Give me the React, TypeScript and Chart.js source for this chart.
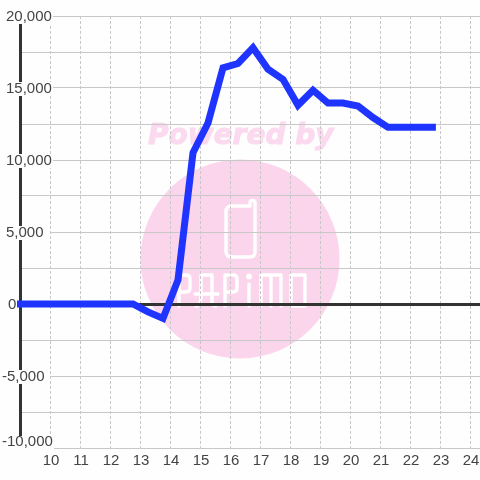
import React, { useEffect, useRef } from "react";
import { Chart, registerables } from "chart.js";

Chart.register(...registerables);

const hours = [9, 12.75, 13.25, 13.75, 14.25, 14.75, 15.25, 15.75, 16.25, 16.75, 17.25, 17.75, 18.25, 18.75, 19.25, 19.75, 20.25, 20.75, 21.25, 21.75, 22.25, 22.73];
const values = [0, 0, -550, -1000, 1670, 10500, 12570, 16400, 16700, 17800, 16300, 15600, 13800, 14850, 13950, 13950, 13750, 12950, 12270, 12270, 12270, 12270];
const xTickLabels = ["10", "11", "12", "13", "14", "15", "16", "17", "18", "19", "20", "21", "22", "23", "24"];
const yLabelled = [20000, 15000, 10000, 5000, 0, -5000, -10000];
const watermarkCaption = "Powered by";

const FONT = '"Liberation Sans", Arial, sans-serif';
const TEXT = "#444444";

const logoLetters: Array<(c: CanvasRenderingContext2D) => void> = [
  (c) => { c.moveTo(179, 306); c.lineTo(179, 275); c.lineTo(186, 275); c.quadraticCurveTo(190, 275, 190, 279); c.lineTo(190, 288); c.quadraticCurveTo(190, 292, 186, 292); c.lineTo(179, 292); },
  (c) => { c.moveTo(201, 293); c.lineTo(201, 275); c.lineTo(212, 275); c.lineTo(212, 302); c.quadraticCurveTo(212, 306, 216, 306); c.moveTo(196, 306); c.quadraticCurveTo(201, 306, 201, 294); c.lineTo(201, 293); c.moveTo(195, 294); c.lineTo(218, 294); },
  (c) => { c.moveTo(225, 306); c.lineTo(225, 275); c.lineTo(233, 275); c.quadraticCurveTo(237, 275, 237, 279); c.lineTo(237, 288); c.quadraticCurveTo(237, 292, 233, 292); c.lineTo(225, 292); },
  (c) => { c.moveTo(249, 284); c.lineTo(249, 306); },
  (c) => { c.moveTo(261, 306); c.lineTo(261, 275); c.lineTo(281, 275); c.lineTo(281, 306); c.moveTo(271, 275); c.lineTo(271, 306); },
  (c) => { c.moveTo(291, 275); c.lineTo(305, 275); c.lineTo(305, 306); c.lineTo(291, 306); c.closePath(); },
];

const watermark = {
  id: "watermark",
  beforeDraw(chart: any) {
    const c = chart.ctx as CanvasRenderingContext2D;
    c.save();
    c.fillStyle = "#fdfefd";
    c.fillRect(0, 0, chart.width, chart.height);
    c.fillStyle = "#fbd5ec";
    c.beginPath();
    c.arc(240, 259, 99.5, 0, Math.PI * 2);
    c.fill();
    c.font = 'italic bold 28px "DejaVu Sans"';
    c.textBaseline = "alphabetic";
    c.textAlign = "left";
    c.fillStyle = "#fbd9ee";
    c.strokeStyle = "#fbd9ee";
    c.lineWidth = 1;
    c.fillText(watermarkCaption, 148, 144);
    c.strokeText(watermarkCaption, 148, 144);

    c.strokeStyle = "#ffffff";
    c.lineWidth = 3.4;
    c.lineCap = "round";
    c.lineJoin = "round";
    c.beginPath();
    c.moveTo(250, 206);
    c.lineTo(232, 206);
    c.quadraticCurveTo(226, 206, 226, 212);
    c.lineTo(226, 251);
    c.quadraticCurveTo(226, 257, 232, 257);
    c.lineTo(250, 257);
    c.quadraticCurveTo(255, 257, 255, 252);
    c.lineTo(255, 203);
    c.quadraticCurveTo(255, 200.5, 252.5, 200.5);
    c.quadraticCurveTo(250, 200.5, 250, 203);
    c.lineTo(250, 206);
    c.stroke();
    c.beginPath();
    logoLetters.forEach((draw) => draw(c));
    c.stroke();
    c.fillStyle = "#ffffff";
    c.beginPath();
    c.arc(249, 276.5, 3, 0, Math.PI * 2);
    c.fill();
    c.restore();
  },
};

const boxRight: Record<string, number> = { "20000": 53, "15000": 53, "10000": 53, "5000": 50, "0": 18, "-5000": 50, "-10000": 54 };

const axisLabels = {
  id: "axisLabels",
  beforeDatasetsDraw(chart: any) {
    const c = chart.ctx as CanvasRenderingContext2D;
    const s = chart.scales.y;
    const sx = chart.scales.x;
    c.save();
    c.font = `15px ${FONT}`;
    c.textAlign = "left";
    c.textBaseline = "middle";
    s.ticks.forEach((t: any) => {
      if (!yLabelled.includes(t.value)) return;
      const py = s.getPixelForValue(t.value);
      const bottom = t.value === s.min;
      const top = bottom ? py - 12 : py - 6;
      c.fillStyle = "#fdfefd";
      c.fillRect(0, top, boxRight[String(t.value)], 14);
      c.fillStyle = TEXT;
      const left = t.value < 0 ? 2 : t.value === 0 ? 8 : 6;
      c.fillText(t.label, left, bottom ? py - 6 : py + 1);
    });
    c.textAlign = "center";
    c.fillStyle = TEXT;
    sx.ticks.forEach((t: any) => {
      c.fillText(String(t.value), sx.getPixelForValue(t.value) + 0.5, 461);
    });
    c.restore();
  },
};

export default function App() {
  const ref = useRef<HTMLCanvasElement>(null);
  useEffect(() => {
    const chart = new Chart(ref.current!, {
      type: "line",
      data: {
        datasets: [
          {
            data: hours.map((h, i) => ({ x: h, y: values[i] })),
            borderColor: "#1f35ff",
            borderWidth: 7,
            borderCapStyle: "square",
            borderJoinStyle: "miter",
            pointRadius: 0,
            tension: 0,
            clip: false,
          },
        ],
      },
      options: {
        animation: false,
        responsive: false,
        devicePixelRatio: 1,
        layout: { autoPadding: false, padding: { top: 16, left: 0, right: 0, bottom: 0 } },
        plugins: { legend: { display: false }, tooltip: { enabled: false } },
        scales: {
          x: {
            type: "linear",
            min: 9 - 1 / 60,
            max: 9 - 1 / 60 + 460 / 30,
            afterFit: (s: any) => { s.height = 32; },
            afterBuildTicks: (s: any) => {
              s.ticks = xTickLabels.map((l) => ({ value: Number(l) }));
            },
            border: { display: false, dash: [3, 2] },
            grid: { color: "#c8c8c8", lineWidth: 1, drawTicks: false },
            ticks: { display: false },
          },
          y: {
            min: -10000,
            max: 20000,
            afterFit: (s: any) => { s.width = 20; },
            border: { display: true, color: "#333333", width: 3 },
            grid: {
              drawTicks: false,
              color: (ctx: any) => (ctx.tick && ctx.tick.value === 0 ? "#333333" : "#c8c8c8"),
              lineWidth: (ctx: any) => (ctx.tick && ctx.tick.value === 0 ? 3 : 1),
            },
            ticks: {
              display: false,
              stepSize: 2500,
              callback: (v: any) => (yLabelled.includes(v) ? Number(v).toLocaleString("en-US") : ""),
            },
          },
        },
      },
      plugins: [watermark, axisLabels],
    } as any);
    return () => chart.destroy();
  }, []);
  return (
    <div style={{ position: "absolute", left: 0, top: 0, width: 480, height: 480 }}>
      <canvas ref={ref} width={480} height={480} style={{ display: "block" }} />
    </div>
  );
}
